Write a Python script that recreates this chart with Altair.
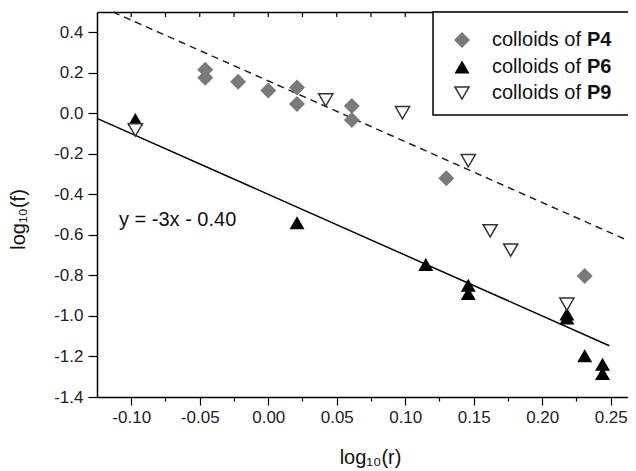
import altair as alt
import pandas as pd

# ---- data ----
p4_x = [-0.046, -0.046, -0.022, 0.000, 0.021, 0.021, 0.061, 0.061, 0.130, 0.231]
p4_y = [0.215, 0.175, 0.156, 0.112, 0.127, 0.046, 0.036, -0.033, -0.321, -0.803]
p6_x = [-0.097, 0.021, 0.115, 0.146, 0.146, 0.218, 0.218, 0.231, 0.244, 0.244]
p6_y = [-0.03, -0.54, -0.746, -0.848, -0.889, -0.99, -1.01, -1.197, -1.238, -1.284]
p9_x = [-0.097, 0.042, 0.098, 0.146, 0.162, 0.177, 0.218]
p9_y = [-0.082, 0.066, 0.003, -0.234, -0.580, -0.675, -0.942]

# fit lines (end points)
solid_x = [-0.125, 0.249]
solid_y = [-0.025, -1.147]
dash_x = [-0.1133, 0.2626]
dash_y = [0.500, -0.628]

x_ticks = [-0.1, -0.075, -0.05, -0.025, 0.0, 0.025, 0.05, 0.075, 0.1, 0.125,
           0.15, 0.175, 0.2, 0.225, 0.25]
y_ticks = [-1.4, -1.3, -1.2, -1.1, -1.0, -0.9, -0.8, -0.7, -0.6, -0.5, -0.4,
           -0.3, -0.2, -0.1, 0.0, 0.1, 0.2, 0.3, 0.4]

series_names = ["P4", "P6", "P9"]
legend_prefix = "colloids of"
equation = "y = -3x - 0.40"

FONT = "Liberation Sans"
W, H = 531, 385

xs = alt.Scale(domain=[-0.125, 0.2626], nice=False, zero=False)
ys = alt.Scale(domain=[-1.4, 0.5], nice=False, zero=False)

x_axis = alt.Axis(
    values=x_ticks,
    labelExpr="abs(round(datum.value*40)) % 2 == 0 ? (datum.value < 0 ? '-' : '') + format(abs(datum.value), '.2f') : ''",
    tickSize={"condition": {"test": "abs(round(datum.value*40)) % 2 == 0", "value": 8}, "value": 4},
    tickColor="black", tickWidth=1.2,
    domainColor="black", domainWidth=1.5,
    labelFont=FONT, labelFontSize=17, labelColor="#222", labelPadding=4,
    labelFlush=False, labelOverlap=False, grid=False,
    title="log₁₀(r)", titleFont=FONT, titleFontSize=20, titleFontWeight="normal",
    titleColor="#111", titleX=273, titleY=66, titleBaseline="alphabetic",
)
y_axis = alt.Axis(
    values=y_ticks,
    labelExpr="abs(round(datum.value*10)) % 2 == 0 ? (datum.value < 0 ? '-' : '') + format(abs(datum.value), '.1f') : ''",
    tickSize={"condition": {"test": "abs(round(datum.value*10)) % 2 == 0", "value": 9}, "value": 5},
    tickColor="black", tickWidth=1.2,
    domainColor="black", domainWidth=1.5,
    labelFont=FONT, labelFontSize=17, labelColor="#222", labelPadding=5,
    labelFlush=False, labelOverlap=False, grid=False,
    title="log₁₀(f)", titleFont=FONT, titleFontSize=20, titleFontWeight="normal",
    titleColor="#111", titleX=-73, titleY=207, titleBaseline="alphabetic",
    titleAngle=270,
)

df4 = pd.DataFrame({"x": p4_x, "y": p4_y})
df6 = pd.DataFrame({"x": p6_x, "y": p6_y})
df9 = pd.DataFrame({"x": p9_x, "y": p9_y})
dfs = pd.DataFrame({"x": solid_x, "y": solid_y})
dfd = pd.DataFrame({"x": dash_x, "y": dash_y})
dft = pd.DataFrame({"t": x_ticks})
one = pd.DataFrame({"k": [0]})


def X(field="x"):
    return alt.X(f"{field}:Q", scale=xs, axis=None)


def Y(field="y"):
    return alt.Y(f"{field}:Q", scale=ys)


solid = alt.Chart(dfs).mark_line(color="black", strokeWidth=1.5).encode(
    x=alt.X("x:Q", scale=xs, axis=x_axis), y=alt.Y("y:Q", scale=ys, axis=y_axis))
dashed = alt.Chart(dfd).mark_line(color="#222", strokeWidth=1.5, strokeDash=[7, 5]).encode(
    x=X(), y=Y())

pts4 = alt.Chart(df4).mark_point(shape="diamond", filled=True, color="#7a7a7a",
                                 size=256, opacity=1).encode(x=X(), y=Y())
pts6 = alt.Chart(df6).mark_point(shape="triangle-up", filled=True, color="black",
                                 size=225, opacity=1).encode(x=X(), y=Y())
pts9 = alt.Chart(df9).mark_point(shape="triangle-down", fill="white", stroke="#333",
                                 strokeWidth=1.5, size=200, opacity=1,
                                 fillOpacity=1).encode(x=X(), y=Y())

eq = alt.Chart(one).mark_text(text=equation, font=FONT, fontSize=20, align="left",
                              baseline="middle", color="#111").encode(
    x=alt.value(22), y=alt.value(208))

top = alt.Chart(dft).mark_rule(color="black", strokeWidth=1.2).encode(
    x=alt.X("t:Q", scale=xs, axis=alt.Axis(orient="top", labels=False, ticks=False,
                                            title=None, domainColor="black",
                                            domainWidth=1.5, grid=False)),
    y=alt.value(0), y2=alt.value(5))

# legend (custom, so the series name can be bold)
box = alt.Chart(one).mark_rect(fill="white", stroke="black", strokeWidth=1.5).encode(
    x=alt.value(336), x2=alt.value(560), y=alt.value(0), y2=alt.value(103))

leg_layers = [box]
row_y = [28, 55, 81]
sym_specs = [
    dict(shape="diamond", filled=True, color="#7a7a7a", size=256),
    dict(shape="triangle-up", filled=True, color="black", size=225),
    dict(shape="triangle-down", fill="white", stroke="#333", strokeWidth=1.5, size=200),
]
for i, name in enumerate(series_names):
    leg_layers.append(
        alt.Chart(one).mark_point(opacity=1, **sym_specs[i]).encode(
            x=alt.value(365), y=alt.value(row_y[i])))
    leg_layers.append(
        alt.Chart(one).mark_text(text=legend_prefix, font=FONT, fontSize=20,
                                 align="left", baseline="middle", color="#111").encode(
            x=alt.value(395), y=alt.value(row_y[i])))
    leg_layers.append(
        alt.Chart(one).mark_text(text=name, font=FONT, fontSize=20, fontWeight="bold",
                                 align="left", baseline="middle", color="#111").encode(
            x=alt.value(490), y=alt.value(row_y[i])))

chart = alt.layer(solid, dashed, pts4, pts6, pts9, eq, top, *leg_layers).resolve_axis(
    x="independent"
).properties(
    width=W, height=H,
    autosize=alt.AutoSizeParams(type="none"),
    padding={"left": 89, "top": 4, "right": 0, "bottom": 74},
).configure_view(stroke=None).configure(background="white")

chart.save("out.html", embed_options={"renderer": "svg", "actions": False})
